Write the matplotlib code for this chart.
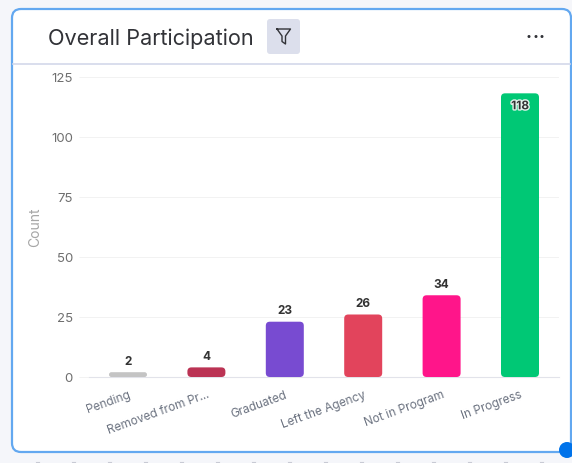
import matplotlib
matplotlib.use("Agg")
import matplotlib.pyplot as plt
import matplotlib.patheffects as pe
from matplotlib.patches import FancyBboxPatch, Circle

categories = ["Pending", "Removed from Pr...", "Graduated", "Left the Agency", "Not in Program", "In Progress"]
counts = [2, 4, 23, 26, 34, 118]
colors = ["#c4c4c4", "#bb3354", "#784bd1", "#e2445c", "#ff158a", "#00c875"]
y_ticks = [0, 25, 50, 75, 100, 125]

W, H = 572, 464
fig = plt.figure(figsize=(W / 100, H / 100), dpi=100, facecolor="#f5f6fa")

# card and header drawn in pixel coordinates
bg = fig.add_axes([0, 0, 1, 1])
bg.set_xlim(0, W)
bg.set_ylim(H, 0)
bg.axis("off")
bg.add_patch(FancyBboxPatch((12, 10), 559, 443, boxstyle="round,pad=0,rounding_size=9",
                            fc="white", ec="#63a8f0", lw=1.6))
bg.plot([13, 570], [65, 65], color="#d3d8ea", lw=1.2)
bg.text(47.5, 38.5, "Overall Participation", fontsize=15.6, family="Inter", color="#323338", va="center")
bg.add_patch(FancyBboxPatch((267, 20), 33, 35, boxstyle="round,pad=0,rounding_size=3",
                            fc="#dcdfec", ec="none"))
# filter icon
bg.plot([277, 290.5, 285.5, 285.5, 282, 282, 277], [30, 30, 37, 45, 42.5, 37, 30],
        color="#323338", lw=1, solid_joinstyle="round")
for dot_x in [529, 536, 542]:
    bg.add_patch(Circle((dot_x, 37.5), 1.5, fc="#323338", ec="none"))
bg.add_patch(Circle((567, 451), 8, fc="#0073ea", ec="none", clip_on=False))
for dash_x in range(36, 560, 36):
    bg.plot([dash_x, dash_x + 3], [463, 463], color="#c8cad4", lw=0.8)

# chart area
x0, x1, y_top, y_bot = 88.8, 559.2, 77.5, 378
ax = fig.add_axes([x0 / W, 1 - y_bot / H, (x1 - x0) / W, (y_bot - y_top) / H])
ax.patch.set_alpha(0)
ax.set_xlim(-0.5, 5.5)
ax.set_ylim(0, 125)

bars = ax.bar(range(len(counts)), counts, width=38 / 78.4, color=colors)
px_x = (x1 - x0) / 6
px_y = (y_bot - y_top) / 125
for bar, col, val in zip(bars, colors, counts):
    bar.set_visible(False)
    radius_px = min(4, val * px_y / 2)
    ax.add_patch(FancyBboxPatch((bar.get_x(), 0), bar.get_width(), val,
                                boxstyle="round,pad=0,rounding_size=%f" % (radius_px / px_x),
                                mutation_aspect=px_x / px_y, fc=col, ec="none", zorder=3))
    if val > 100:
        ax.annotate(str(val), (bar.get_x() + bar.get_width() / 2, val), xytext=(0, -5),
                    textcoords="offset points", ha="center", va="top", fontsize=8.5,
                    family="Inter", fontweight="bold", color="#333333", zorder=4,
                    path_effects=[pe.withStroke(linewidth=2, foreground="#e4f3ec")])
    else:
        ax.annotate(str(val), (bar.get_x() + bar.get_width() / 2, val), xytext=(0, 4),
                    textcoords="offset points", ha="center", va="bottom", fontsize=8.5,
                    family="Inter", fontweight="bold", color="#333333", zorder=4)

ax.set_yticks(y_ticks)
ax.set_yticklabels(y_ticks, fontsize=9.5, family="Inter", color="#6f6f6f")
ax.set_xticks(range(len(categories)))
ax.set_xticklabels(categories, rotation=20, ha="right", rotation_mode="anchor",
                   fontsize=8.5, family="Inter", color="#6b7280")
ax.tick_params(axis="x", length=0, pad=8)
ax.tick_params(axis="y", length=7.5, width=0.7, color="#f2f2f2", pad=4)
ax.grid(axis="y", color="#f2f2f2", lw=0.7)
ax.set_axisbelow(True)
for side in ["top", "right", "left"]:
    ax.spines[side].set_visible(False)
ax.spines["bottom"].set_color("#e2e3ea")
ax.spines["bottom"].set_linewidth(0.8)
ax.yaxis.get_major_ticks()[0].tick1line.set_color("#e2e3ea")
bg.text(35, 227, "Count", rotation=90, fontsize=10, family="Inter", color="#a6a6a6",
        ha="center", va="center")

fig.savefig("out.png", dpi=100, facecolor=fig.get_facecolor())
